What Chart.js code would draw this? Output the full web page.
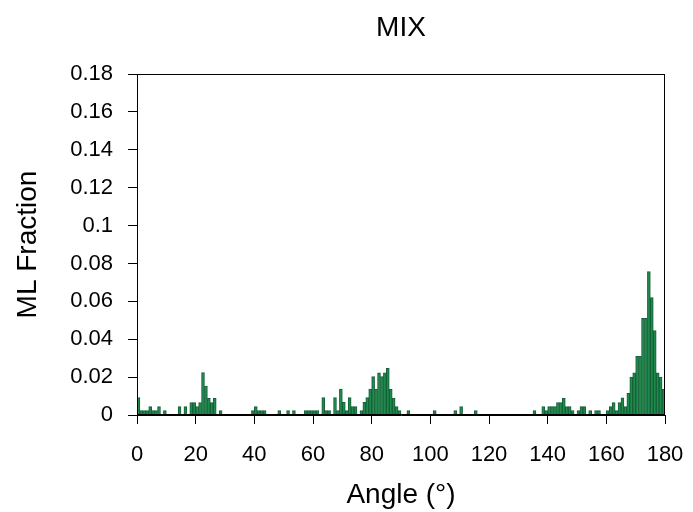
<!DOCTYPE html>
<html>
<head>
<meta charset="utf-8">
<script src="https://cdn.jsdelivr.net/npm/chart.js@4.4.1/dist/chart.umd.min.js"></script>
<style>
  html, body { margin: 0; padding: 0; background: #fff; }
</style>
</head>
<body>
<canvas id="graficoAngulos" width="693" height="512"></canvas>
<script>
// ML fraction per 1-degree angle bin (bin i covers [i, i+1))
const fraction = [
  0.0092, 0.0023, 0.0023, 0.0023, 0.0044, 0.0023, 0.0023, 0.0044, 0,      0.0023,  // 0-9
  0,      0,      0,      0,      0.0044, 0,      0.0044, 0,      0.0065, 0.0065,  // 10-19
  0.0044, 0.0065, 0.0224, 0.0153, 0.0088, 0.0065, 0.0088, 0,      0.0023, 0,       // 20-29
  0,      0,      0,      0,      0,      0,      0,      0,      0,      0.0023,  // 30-39
  0.0044, 0.0023, 0.0023, 0.0023, 0,      0,      0,      0,      0.0023, 0,       // 40-49
  0,      0.0023, 0,      0.0023, 0,      0,      0,      0.0023, 0.0023, 0.0023,  // 50-59
  0.0023, 0.0023, 0,      0.0092, 0.0023, 0.0023, 0,      0.0092, 0.0023, 0.0137,  // 60-69
  0.0067, 0.0023, 0.0092, 0.0044, 0.0044, 0,      0.0023, 0.0067, 0.0092, 0.0137,  // 70-79
  0.0203, 0.0137, 0.0222, 0.0203, 0.0222, 0.0246, 0.0135, 0.0088, 0.0044, 0.0023,  // 80-89
  0,      0,      0.0023, 0,      0,      0,      0,      0,      0,      0,       // 90-99
  0,      0.0023, 0,      0,      0,      0,      0,      0,      0.0023, 0,       // 100-109
  0.0044, 0,      0,      0,      0,      0.0023, 0,      0,      0,      0,       // 110-119
  0,      0,      0,      0,      0,      0,      0,      0,      0,      0,       // 120-129
  0,      0,      0,      0,      0,      0.0023, 0,      0,      0.0044, 0.0023,  // 130-139
  0.0044, 0.0044, 0.0044, 0.0065, 0.0065, 0.0088, 0.0044, 0.0044, 0.0023, 0,       // 140-149
  0.0023, 0.0044, 0.0044, 0,      0.0023, 0,      0.0023, 0.0023, 0,      0,       // 150-159
  0.0023, 0.0044, 0.0065, 0.0023, 0.0065, 0.009,  0.0044, 0.0114, 0.020,  0.0222,  // 160-169
  0.031,  0.031,  0.051,  0.051,  0.0757, 0.062,  0.0445, 0.0222, 0.020,  0.0135   // 170-179
];
const angleBins = fraction.map((_, i) => i);
const xTickValues = [0, 20, 40, 60, 80, 100, 120, 140, 160, 180];
const yTickValues = [0, 0.02, 0.04, 0.06, 0.08, 0.1, 0.12, 0.14, 0.16, 0.18];

const fonte = 'Liberation Sans, Arial, sans-serif';
const preto = '#000';

// moldura completa em volta da área do gráfico
const moldura = {
  id: 'moldura',
  afterDraw(chart) {
    const { ctx, chartArea: a } = chart;
    ctx.save();
    ctx.strokeStyle = preto;
    ctx.lineWidth = 1;
    ctx.strokeRect(Math.round(a.left) + 0.5, Math.round(a.top) + 0.5,
      Math.round(a.right - a.left) - 1, Math.round(a.bottom - a.top) - 1);
    ctx.restore();
  }
};

// tamanho fixo dos eixos, sem margem extra para os rótulos
const fixarAltura = h => s => { s.height = h; s.paddingLeft = 0; s.paddingRight = 0; };

const ctx = document.getElementById('graficoAngulos').getContext('2d');
new Chart(ctx, {
  type: 'bar',
  data: {
    labels: angleBins,
    datasets: [{
      data: fraction,
      backgroundColor: '#1f8a4b',
      borderColor: '#136038',
      borderWidth: 1,
      barPercentage: 1,
      categoryPercentage: 1
    }]
  },
  options: {
    responsive: false,
    animation: false,
    devicePixelRatio: 1,
    layout: { padding: { left: 0, right: 28, top: 0, bottom: 0 } },
    plugins: {
      legend: { display: false },
      tooltip: { enabled: false },
      title: { display: false }
    },
    scales: {
      x: { display: false, offset: true, afterFit: s => { s.paddingLeft = 0; s.paddingRight = 0; } },
      // eixo só para o título, centrado sobre a área do gráfico
      topo: {
        type: 'linear',
        position: 'top',
        min: 0,
        max: 180,
        offset: false,
        afterFit: fixarAltura(74),
        grid: { display: false },
        border: { display: false },
        ticks: { display: false },
        title: {
          display: true,
          text: 'MIX',
          color: preto,
          font: { family: fonte, size: 28 },
          padding: { top: 11, bottom: 0 }
        }
      },
      angle: {
        type: 'linear',
        position: 'bottom',
        min: 0,
        max: 180,
        offset: false,
        afterBuildTicks: s => { s.ticks = xTickValues.map(v => ({ value: v })); },
        afterFit: fixarAltura(97),
        grid: { offset: false, drawOnChartArea: false, drawTicks: true, tickLength: 9, tickColor: preto },
        border: { display: true, color: preto, width: 1 },
        ticks: { color: preto, font: { family: fonte, size: 22 }, padding: 18, maxRotation: 0 },
        title: {
          display: true,
          text: 'Angle (°)',
          color: preto,
          font: { family: fonte, size: 28 },
          padding: { top: 0, bottom: 0 }
        }
      },
      y: {
        min: 0,
        max: 0.18,
        afterBuildTicks: s => { s.ticks = yTickValues.map(v => ({ value: v })); },
        afterFit: s => { s.width = 137; s.paddingTop = 0; s.paddingBottom = 0; },
        grid: { drawOnChartArea: false, drawTicks: true, tickLength: 9, tickColor: preto },
        border: { display: true, color: preto, width: 1 },
        ticks: {
          color: preto,
          font: { family: fonte, size: 22 },
          padding: 15,
          callback: v => String(+v.toFixed(2))
        },
        title: {
          display: true,
          text: 'ML Fraction',
          color: preto,
          font: { family: fonte, size: 28 },
          padding: { top: 11, bottom: 0 }
        }
      }
    }
  },
  plugins: [moldura]
});
</script>
</body>
</html>
